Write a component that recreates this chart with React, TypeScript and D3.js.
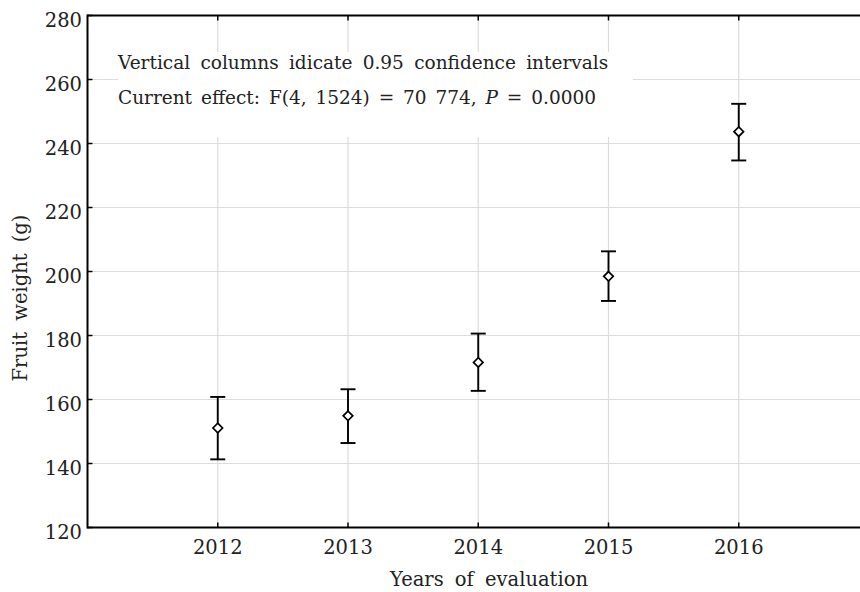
import * as d3 from 'd3'

// fruit weight by year, mean with 0.95 confidence interval
const years = [2012, 2013, 2014, 2015, 2016]
const means = [151.1, 154.9, 171.6, 198.5, 243.7]
const upper = [160.8, 163.2, 180.6, 206.3, 252.4]
const lower = [141.3, 146.4, 162.7, 190.8, 234.7]
const yTicks = [120, 140, 160, 180, 200, 220, 240, 260, 280]

const W = 860
const H = 592
const font = "'DejaVu Serif', serif"
const ink = '#222'

export default function App() {
    const x = d3.scaleLinear().domain([2011, 2017]).range([87.5, 869])
    const y = d3.scaleLinear().domain([120, 280]).range([527.5, 15.5])

    const x0 = x(2011)
    const x1 = x(2017)
    const yTop = y(280)
    const yBot = y(120)

    const diamond = d3.symbol().type(d3.symbolDiamond2).size(58)

    return (
        <svg width={W} height={H} style={{ position: 'absolute', left: 0, top: 0, background: '#fff' }}>
            <rect x={0} y={0} width={W} height={H} fill="#fff" />

            {/* grid */}
            {yTicks.slice(1, -1).map(t => (
                <line key={'gy' + t} x1={x0} x2={x1} y1={y(t)} y2={y(t)} stroke="#dcdcdc" strokeWidth={1.2} />
            ))}
            {years.map(t => (
                <line key={'gx' + t} x1={x(t)} x2={x(t)} y1={yTop} y2={yBot} stroke="#dcdcdc" strokeWidth={1.2} />
            ))}

            {/* annotation box */}
            <rect x={118} y={52} width={515} height={85} fill="#fff" />
            <g fontFamily={font} fontSize={18.5} fill={ink}>
                <text x={118} y={69} style={{ wordSpacing: '4.4px' }}>Vertical columns idicate 0.95 confidence intervals</text>
                <text x={118} y={104} style={{ wordSpacing: '3px' }}>
                    Current effect: F(4, 1524) = 70 774, <tspan fontStyle="italic">P</tspan> = 0.0000
                </text>
            </g>

            {/* frame */}
            <line x1={x0} x2={x1} y1={yBot} y2={yBot} stroke="#000" strokeWidth={2} />
            <line x1={x0} x2={x1} y1={yTop} y2={yTop} stroke="#000" strokeWidth={2} />
            <line x1={x0} x2={x0} y1={yTop - 1} y2={yBot + 1} stroke="#000" strokeWidth={2} />

            {/* ticks inward */}
            {yTicks.map(t => (
                <line key={'ty' + t} x1={x0} x2={x0 + 5} y1={y(t)} y2={y(t)} stroke="#000" strokeWidth={1.5} />
            ))}
            {years.map(t => (
                <g key={'tx' + t}>
                    <line x1={x(t)} x2={x(t)} y1={yBot} y2={yBot - 5} stroke="#000" strokeWidth={1.5} />
                    <line x1={x(t)} x2={x(t)} y1={yTop} y2={yTop + 5} stroke="#000" strokeWidth={1.5} />
                </g>
            ))}

            {/* tick labels */}
            <g fontFamily={font} fontSize={19.5} fill={ink}>
                {yTicks.map(t => (
                    <text key={'ly' + t} x={82} y={y(t) + 11} textAnchor="end">{t}</text>
                ))}
                {years.map(t => (
                    <text key={'lx' + t} x={x(t)} y={554} textAnchor="middle">{t}</text>
                ))}
            </g>

            {/* axis titles */}
            <g fontFamily={font} fontSize={19.5} fill={ink} style={{ wordSpacing: '5px' }}>
                <text x={489} y={586} textAnchor="middle">Years of evaluation</text>
                <text transform="translate(27,298) rotate(-90)" textAnchor="middle">Fruit weight (g)</text>
            </g>

            {/* error bars */}
            {years.map((t, i) => (
                <g key={'e' + t} stroke="#000" strokeWidth={1.9} fill="none">
                    <line x1={x(t)} x2={x(t)} y1={y(upper[i])} y2={y(lower[i])} />
                    <line x1={x(t) - 7.5} x2={x(t) + 7.5} y1={y(upper[i])} y2={y(upper[i])} />
                    <line x1={x(t) - 7.5} x2={x(t) + 7.5} y1={y(lower[i])} y2={y(lower[i])} />
                    <path d={diamond() as string} transform={`translate(${x(t)},${y(means[i])})`} fill="#fff" strokeWidth={1.7} />
                </g>
            ))}
        </svg>
    )
}
